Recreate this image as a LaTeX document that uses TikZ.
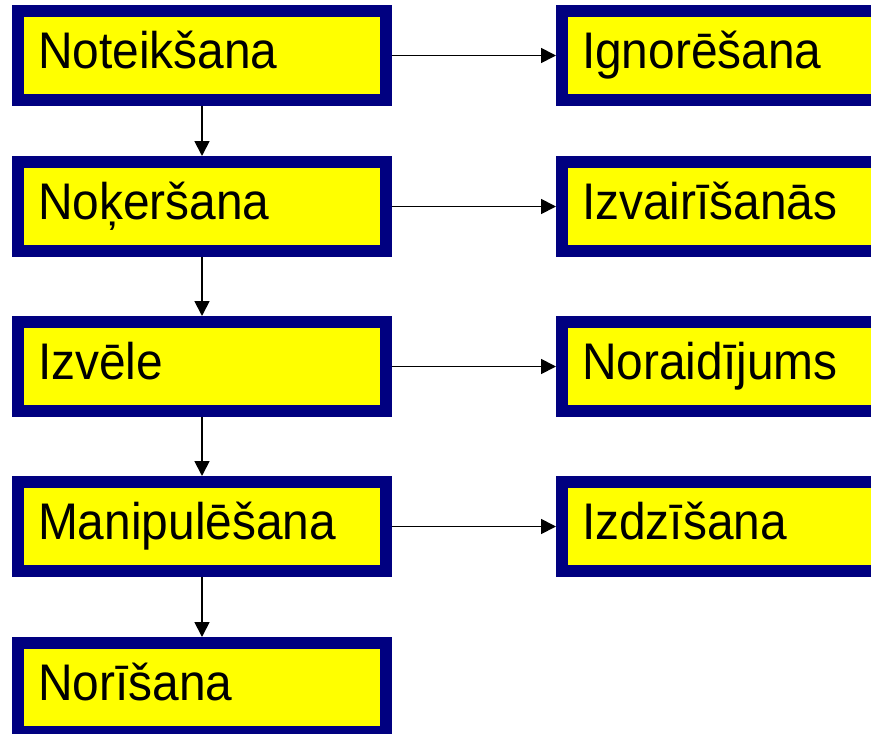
\documentclass[tikz,border=0pt]{standalone}
\usepackage{fontspec}
\setmainfont{Liberation Sans}
\usetikzlibrary{arrows.meta}
\definecolor{framenavy}{RGB}{0,0,128}
\definecolor{fillyellow}{RGB}{255,255,0}
\newcommand{\stagelabel}[1]{\scalebox{0.93}[1]{#1}}
\tikzset{
  stagebox/.style={
    draw=framenavy, fill=fillyellow, line width=12pt, outer sep=6pt,
    minimum width=368pt, minimum height=89pt,
    text width=328pt, align=left, inner xsep=20pt, inner ysep=0pt,
    text height=37pt, text depth=11pt,
    font=\fontsize{51.5pt}{56pt}\selectfont
  },
  flow/.style={line width=1.8pt, -{Triangle[width=15pt,length=15pt]}}
}
\begin{document}
\begin{tikzpicture}[x=1pt,y=-1pt]
\useasboundingbox (0,0) rectangle (871,734);
\clip (0,0) rectangle (871,734);
% main sequence of stages
\node[stagebox] (s1) at (202,55.5)  {\stagelabel{Noteikšana}};
\node[stagebox] (s2) at (202,206.5) {\stagelabel{Noķeršana}};
\node[stagebox] (s3) at (202,366.5) {\stagelabel{Izvēle}};
\node[stagebox] (s4) at (202,526.5) {\stagelabel{Manipulēšana}};
\node[stagebox] (s5) at (202,687.5) {\stagelabel{Norīšana}};
% responses on the right
\node[stagebox] (r1) at (746,55.5)  {\stagelabel{Ignorēšana}};
\node[stagebox] (r2) at (746,206.5) {\stagelabel{Izvairīšanās}};
\node[stagebox] (r3) at (746,366.5) {\stagelabel{Noraidījums}};
\node[stagebox] (r4) at (746,526.5) {\stagelabel{Izdzīšana}};
% vertical flow
\draw[flow] (s1.south) -- (s2.north);
\draw[flow] (s2.south) -- (s3.north);
\draw[flow] (s3.south) -- (s4.north);
\draw[flow] (s4.south) -- (s5.north);
% horizontal flow
\draw[flow] (s1.east) -- (r1.west);
\draw[flow] (s2.east) -- (r2.west);
\draw[flow] (s3.east) -- (r3.west);
\draw[flow] (s4.east) -- (r4.west);
\end{tikzpicture}
\end{document}
